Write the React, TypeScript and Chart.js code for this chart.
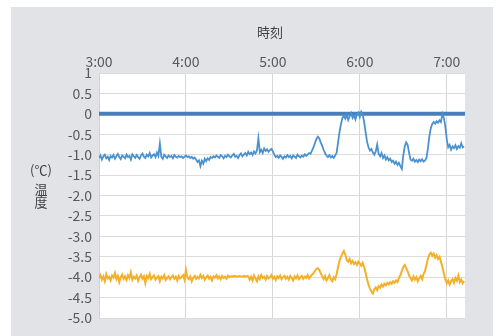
import React, { useEffect, useRef } from "react";
import { Chart, registerables } from "chart.js";

Chart.register(...registerables);

// minutes since 3:00
const xTickValues = [0, 60, 120, 180, 240];
const xTickLabels = ["3:00", "4:00", "5:00", "6:00", "7:00"];
const xMax = 252.6;

const yTickValues = [1, 0.5, 0, -0.5, -1, -1.5, -2, -2.5, -3, -3.5, -4, -4.5, -5];
const yTickLabels = ["1", "0.5", "0", "-0.5", "-1.0", "-1.5", "-2.0", "-2.5", "-3.0", "-3.5", "-4.0", "-4.5", "-5.0"];

const xTitle = "時刻";
const yTitleLines = ["(℃)", "温", "度"];

const zeroLineValue = 0;

// one value per minute from 3:00
const blueSeries = [
  -1.08, -1.02, -1.12, -1.04, -1.0, -1.09, -1.05, -1.13, -1.03, -1.07,
  -1.01, -1.1, -1.04, -0.98, -1.06, -1.11, -1.02, -1.05, -1.09, -1.0,
  -1.06, -1.03, -1.12, -0.99, -1.04, -1.08, -1.01, -1.06, -1.1, -1.02,
  -0.97, -1.05, -1.08, -1.0, -1.04, -0.96, -1.07, -1.02, -0.99, -1.06,
  -0.95, -1.03, -0.73, -1.05, -1.1, -1.0, -1.04, -1.08, -1.02, -1.06,
  -1.03, -1.09, -1.01, -1.05, -1.07, -1.03, -1.06, -1.04, -1.08, -1.05,
  -1.02, -1.06, -1.04, -1.08, -1.05, -1.1, -1.07, -1.12, -1.18, -1.14,
  -1.28, -1.15, -1.22, -1.1, -1.16, -1.09, -1.13, -1.06, -1.08, -1.04,
  -1.07, -1.02, -1.05, -1.08, -1.01, -1.04, -1.09, -1.03, -1.06, -1.0,
  -1.04, -1.07, -1.02, -0.98, -1.05, -1.03, -1.08, -1.01, -0.97, -1.04,
  -1.0, -0.96, -1.02, -0.93, -0.99, -0.95, -1.01, -0.92, -0.97, -0.9,
  -0.6, -0.94, -0.88, -0.96, -0.85, -0.91, -0.87, -0.93, -0.89, -0.86,
  -0.92, -1.0, -1.06, -1.03, -1.08, -1.02, -1.05, -1.1, -1.04, -1.07,
  -1.01, -1.06, -1.03, -1.09, -1.02, -1.05, -1.08, -1.0, -1.04, -1.07,
  -1.02, -1.05, -0.99, -1.03, -1.0, -0.96, -0.98, -0.9, -0.82, -0.72,
  -0.62, -0.56, -0.6, -0.7, -0.78, -0.88, -0.96, -1.02, -1.06, -1.01,
  -1.07, -1.03, -1.08, -1.02, -0.95, -0.7, -0.45, -0.25, -0.1, -0.05,
  -0.12, -0.02, -0.15, -0.06, 0.02, -0.1, -0.04, -0.14, -0.01, 0.03,
  -0.08, 0.05, -0.02, -0.2, -0.45, -0.68, -0.82, -0.9, -0.86, -0.95,
  -1.0, -0.92, -0.75, -0.98, -1.04, -0.96, -1.08, -1.02, -1.12, -1.06,
  -1.14, -1.1, -1.18, -1.15, -1.22, -1.17, -1.25, -1.2, -1.28, -1.35,
  -1.02, -0.8, -0.7, -0.76, -0.95, -1.12, -1.15, -1.1, -1.17, -1.13,
  -1.18, -1.12, -1.16, -1.11, -1.17, -1.14, -1.08, -0.85, -0.55, -0.35,
  -0.25, -0.2, -0.24, -0.18, -0.22, -0.16, -0.2, 0.0, -0.1, -0.3,
  -0.62, -0.82, -0.76, -0.88, -0.8, -0.84, -0.77, -0.86, -0.79, -0.83,
  -0.72, -0.82, -0.8,
];

const orangeSeries = [
  -4.02, -3.95, -4.06, -3.98, -4.1, -3.93, -4.03, -3.99, -4.08, -3.96,
  -4.01, -3.9, -4.05, -3.97, -4.12, -4.0, -3.94, -4.04, -3.98, -4.07,
  -3.95, -4.02, -3.88, -4.06, -3.99, -4.03, -3.96, -4.09, -4.0, -3.94,
  -4.04, -3.98, -4.15, -3.97, -4.02, -3.92, -4.05, -4.0, -3.96, -4.06,
  -4.01, -3.97, -4.1, -3.99, -4.03, -3.95, -4.07, -4.02, -3.98, -4.05,
  -4.0, -3.96, -4.04, -3.99, -4.08, -3.97, -4.03, -4.0, -3.95, -4.06,
  -3.82, -4.01, -4.05, -3.98, -4.1, -4.02, -3.97, -4.04, -3.99, -4.03,
  -3.94, -4.02, -3.97, -4.06, -4.0, -3.96, -4.04, -3.99, -4.08, -3.98,
  -4.01, -3.95, -4.03, -3.98, -4.05, -3.97, -4.02, -3.99, -4.04, -3.96,
  -4.0, -3.98, -3.97, -3.98, -3.97, -3.99, -3.98, -3.97, -3.98, -3.99,
  -3.97, -3.98, -3.97, -3.98, -4.06, -3.99, -4.08, -3.96, -4.03, -4.1,
  -3.98, -4.05, -3.95, -4.02, -3.99, -4.06, -3.97, -4.03, -4.0, -3.95,
  -4.04, -3.99, -4.07, -3.98, -4.02, -3.96, -4.05, -4.0, -3.97, -4.04,
  -3.99, -4.06, -3.97, -4.02, -4.08, -3.98, -4.03, -3.96, -4.05, -4.0,
  -3.97, -4.04, -3.99, -4.02, -3.95, -4.03, -3.98, -3.94, -3.9, -3.85,
  -3.8, -3.78, -3.82, -3.9, -3.98, -4.05, -3.97, -4.08, -4.02, -3.95,
  -4.06, -4.1, -4.0, -4.05, -3.92, -3.75, -3.6, -3.5, -3.42, -3.36,
  -3.45, -3.58, -3.62, -3.55, -3.66, -3.6, -3.68, -3.63, -3.7, -3.62,
  -3.67, -3.72, -3.65, -3.75, -3.9, -4.05, -4.18, -4.28, -4.35, -4.4,
  -4.3, -4.25, -4.32, -4.22, -4.26, -4.18, -4.23, -4.16, -4.2, -4.14,
  -4.18, -4.12, -4.16, -4.1, -4.14, -4.08, -4.12, -4.02, -3.95, -3.85,
  -3.75, -3.7, -3.78, -3.85, -3.96, -4.02, -4.08, -3.98, -4.06, -4.0,
  -4.1, -4.03, -3.97, -4.05, -3.92, -3.85, -3.7, -3.55, -3.45, -3.4,
  -3.48, -3.42, -3.52, -3.46, -3.55, -3.5, -3.62, -3.75, -3.9, -4.05,
  -4.15, -4.08, -4.18, -4.1, -4.05, -4.14, -4.02, -4.09, -3.96, -4.12,
  -4.06, -4.15, -4.1,
];

const FONT = "'Noto Sans CJK JP', 'Noto Sans', sans-serif";

export default function App() {
  const ref = useRef<HTMLCanvasElement | null>(null);

  useEffect(() => {
    if (!ref.current) return;

    const plotBg = {
      id: "plotBg",
      beforeDraw(chart: any) {
        const { ctx, chartArea } = chart;
        ctx.save();
        ctx.fillStyle = "#ffffff";
        ctx.fillRect(chartArea.left, chartArea.top, chartArea.right - chartArea.left, chartArea.bottom - chartArea.top);
        ctx.restore();
      },
    };

    const titles = {
      id: "axisTitles",
      afterDraw(chart: any) {
        const { ctx } = chart;
        ctx.save();
        ctx.fillStyle = "#404040";
        ctx.textAlign = "center";
        ctx.textBaseline = "middle";
        ctx.font = `13px ${FONT}`;
        ctx.fillText(xTitle, 259, 25);
        ctx.fillText(yTitleLines[0], 30, 163.5);
        ctx.fillText(yTitleLines[1], 30, 182.5);
        ctx.fillText(yTitleLines[2], 30, 195);
        ctx.restore();
      },
    };

    const chart = new Chart(ref.current, {
      type: "line",
      data: {
        datasets: [
          {
            label: "blue",
            data: blueSeries.map((v, i) => ({ x: i, y: v })),
            borderColor: "#4a92cf",
            borderWidth: 1.8,
            pointRadius: 0,
            tension: 0,
          },
          {
            label: "orange",
            data: orangeSeries.map((v, i) => ({ x: i, y: v })),
            borderColor: "#f5b02a",
            borderWidth: 2,
            pointRadius: 0,
            tension: 0,
          },
          {
            label: "zero",
            data: [
              { x: 0, y: zeroLineValue },
              { x: xMax, y: zeroLineValue },
            ],
            borderColor: "#4a7ebb",
            borderWidth: 4,
            pointRadius: 0,
            tension: 0,
          },
        ],
      },
      options: {
        responsive: false,
        animation: false,
        devicePixelRatio: 1,
        layout: { padding: { left: 0, top: 0, right: 28, bottom: 18 } },
        plugins: {
          legend: { display: false },
          tooltip: { enabled: false },
        },
        scales: {
          x: {
            type: "linear",
            position: "top",
            min: 0,
            max: xMax,
            afterBuildTicks: (scale: any) => {
              scale.ticks = xTickValues.map((v) => ({ value: v }));
            },
            afterFit: (scale: any) => {
              scale.height = 66;
            },
            ticks: {
              autoSkip: false,
              maxRotation: 0,
              padding: 3,
              color: "#595959",
              font: { family: FONT, size: 14 },
              callback: (value: any) => {
                const i = xTickValues.indexOf(Number(value));
                return i >= 0 ? xTickLabels[i] : "";
              },
            },
            grid: { color: "#d6d6d6", lineWidth: 1, drawTicks: false },
            border: { display: false },
          },
          y: {
            type: "linear",
            min: -5,
            max: 1,
            afterBuildTicks: (scale: any) => {
              scale.ticks = yTickValues.map((v) => ({ value: v }));
            },
            afterFit: (scale: any) => {
              scale.width = 88;
            },
            ticks: {
              autoSkip: false,
              padding: 7,
              color: "#595959",
              font: { family: FONT, size: 14 },
              callback: (value: any) => {
                const i = yTickValues.indexOf(Number(value));
                return i >= 0 ? yTickLabels[i] : "";
              },
            },
            grid: { color: "#dcdcdc", lineWidth: 1, drawTicks: false },
            border: { display: true, color: "#d0d0d0" },
          },
        },
      },
      plugins: [plotBg, titles],
    } as any);

    return () => chart.destroy();
  }, []);

  return (
    <div
      style={{
        position: "fixed",
        left: 11,
        top: 7,
        width: 482,
        height: 329,
        background: "#e2e3e7",
      }}
    >
      <canvas ref={ref} width={482} height={329} style={{ display: "block" }} />
    </div>
  );
}
